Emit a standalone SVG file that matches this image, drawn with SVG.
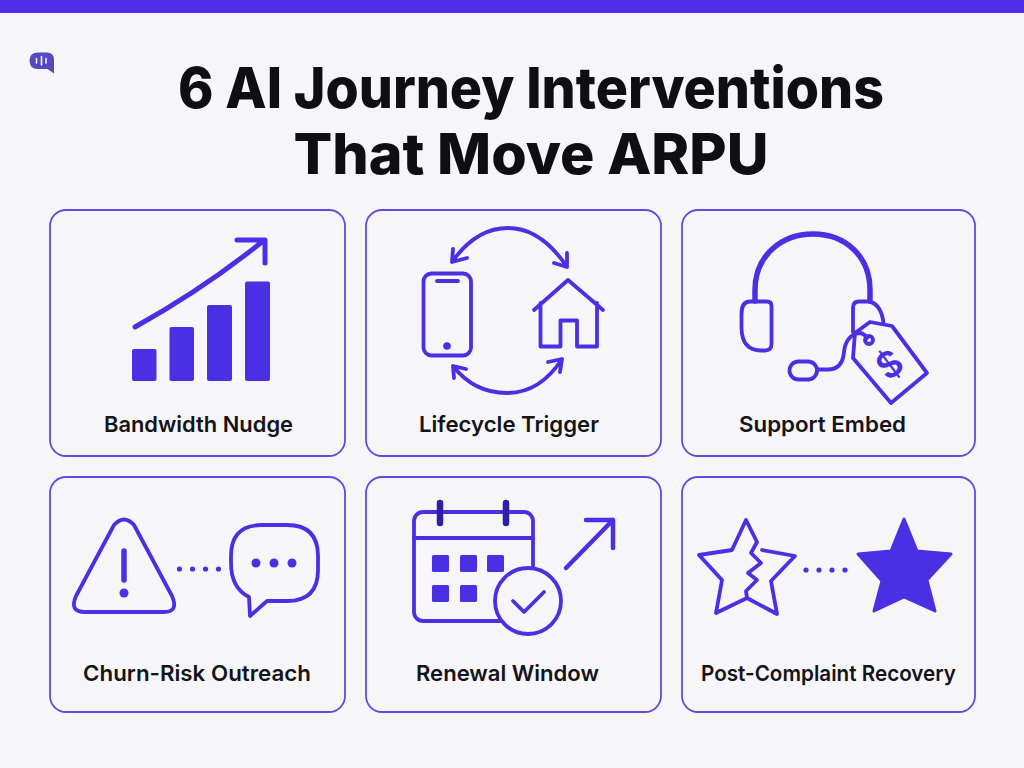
<svg xmlns="http://www.w3.org/2000/svg" width="1024" height="768" viewBox="0 0 1024 768">
<style>
.card{fill:#f6f6f9;stroke:#6448e6;stroke-width:1.8}
.ln{fill:none;stroke:#4a2fe3;stroke-width:3.800;stroke-linecap:round;stroke-linejoin:round}
.f{fill:#4a2fe3}
.lb{font-family:Inter,"Liberation Sans",sans-serif;font-weight:600;font-size:22px;fill:#141418;text-anchor:middle}
.tt{font-family:Inter,"Liberation Sans",sans-serif;font-weight:800;font-size:56.500px;fill:#0f0f12;text-anchor:middle}
</style>
<rect width="1024" height="768" fill="#f6f6f9"/>
<rect width="1024" height="13" fill="#4f2fe8"/>
<g id="logo">
<path d="M38 52.500H47Q54 52.500 54 60V73.500L47.500 69H38Q29.500 69 29.500 60.700Q29.500 52.500 38 52.500Z" fill="#5548c0"/>
<path d="M36.500 58.500V63M41.500 56.500V65M46 58.500V63" stroke="#f6f6f9" stroke-width="1.600" stroke-linecap="round" fill="none"/>
</g>
<g id="title">
<text class="tt" x="531" y="107.500" textLength="706" lengthAdjust="spacingAndGlyphs">6 AI Journey Interventions</text>
<text class="tt" x="531" y="173.500" textLength="475" lengthAdjust="spacingAndGlyphs">That Move ARPU</text>
</g>
<g id="node-bandwidth-nudge">
<rect class="card" x="50" y="210" width="295" height="246" rx="16"/>
<rect class="f" x="132" y="349" width="24.500" height="32" rx="2"/>
<rect class="f" x="169.500" y="327" width="24.500" height="54" rx="2"/>
<rect class="f" x="207" y="305" width="25" height="76" rx="2"/>
<rect class="f" x="245" y="281.500" width="25" height="99.500" rx="2"/>
<path class="ln" style="stroke-width:5" d="M135 327Q205 288 263 241M237 240H265V263"/>
<text class="lb" x="198.500" y="432" textLength="189" lengthAdjust="spacingAndGlyphs">Bandwidth Nudge</text>
</g>
<g id="node-lifecycle-trigger">
<rect class="card" x="366" y="210" width="295" height="246" rx="16"/>
<rect class="ln" x="423.500" y="273.500" width="47.500" height="82" rx="8"/>
<path class="ln" d="M437 281H458"/>
<circle class="f" cx="447" cy="346" r="3.800"/>
<path class="ln" d="M534 310L568 280L603 310M540.500 303V346.500H560.500V320.500H577V346.500H597V303"/>
<path class="ln" d="M452 262Q476 228 508 228Q541 228 567 267M453 249L452 262L467 258M567 253L567 267L554 263"/>
<path class="ln" d="M453 366Q474 393 507 393Q540 393 562 359M466 369L453 366L454 378M548 362L562 359L560 372"/>
<text class="lb" x="509" y="432" textLength="180" lengthAdjust="spacingAndGlyphs">Lifecycle Trigger</text>
</g>
<g id="node-support-embed">
<rect class="card" x="682" y="210" width="293" height="246" rx="16"/>
<path class="ln" style="stroke-width:5.500" d="M755 301V290C755 256 781 234 813 234C845 234 870 256 870 290V301"/>
<path class="ln" d="M750 301.500H767Q771.500 301.500 771.500 306V344Q771.500 350.500 765 350.500H761Q742 350.500 741.500 328V314Q741.500 301.500 750 301.500Z"/>
<path class="ln" d="M853 332V308Q853 301.500 859 301.500H868Q881 303 883.500 323"/>
<rect class="ln" x="789.500" y="361.500" width="27.500" height="18" rx="9"/>
<path class="ln" d="M817 369.500H828C838 369.500 843 363 844 352C845 341 851 334 859 333Q864 333 867 338"/>
<path class="ln" d="M870 322L892 326L927 373L891 403L853 358L855 333Z"/>
<circle class="ln" cx="869" cy="340" r="4"/>
<text x="890" y="377" font-family="Inter,'Liberation Sans',sans-serif" font-size="36" font-weight="600" fill="#4a2fe3" text-anchor="middle" transform="rotate(-37 890 365)">$</text>
<text class="lb" x="822.500" y="432" textLength="167" lengthAdjust="spacingAndGlyphs">Support Embed</text>
</g>
<g id="node-churn-risk-outreach">
<rect class="card" x="50" y="477" width="295" height="235" rx="16"/>
<path class="ln" d="M114 525Q124 514 134 525L172 596Q179 612 164 612H85Q69 612 76 596Z"/>
<path class="ln" style="stroke-width:5.500" d="M124 551V580"/>
<circle class="f" cx="124" cy="593" r="4.500"/>
<circle class="f" cx="179.500" cy="569" r="2.600"/><circle class="f" cx="192.500" cy="569" r="2.600"/><circle class="f" cx="205.500" cy="569" r="2.600"/><circle class="f" cx="218.500" cy="569" r="2.600"/>
<path class="ln" d="M262 525H287Q318 525 318 556V570Q318 601 287 601H267L250 616L249 597Q231 588 231 563V556Q231 525 262 525Z"/>
<circle class="f" cx="256" cy="563" r="4.500"/><circle class="f" cx="274" cy="563" r="4.500"/><circle class="f" cx="292" cy="563" r="4.500"/>
<text class="lb" x="197" y="681" textLength="228" lengthAdjust="spacingAndGlyphs">Churn-Risk Outreach</text>
</g>
<g id="node-renewal-window">
<rect class="card" x="366" y="477" width="295" height="235" rx="16"/>
<rect class="ln" x="414" y="512" width="119" height="109" rx="9"/>
<path class="ln" d="M414 538H533"/>
<path class="ln" style="stroke:#2f1fa8;stroke-width:6.500" d="M440 503V523M506 503V523"/>
<rect class="f" x="432" y="555" width="17" height="17" rx="1.500"/><rect class="f" x="460" y="555" width="17" height="17" rx="1.500"/><rect class="f" x="487" y="555" width="17" height="17" rx="1.500"/>
<rect class="f" x="432" y="585" width="17" height="17" rx="1.500"/><rect class="f" x="460" y="585" width="17" height="17" rx="1.500"/>
<circle class="ln" style="fill:#f6f6f9" cx="528" cy="601" r="33"/>
<path class="ln" d="M513 601L524 612L544 592"/>
<path class="ln" style="stroke-width:4.500" d="M566 568L613 520M586 520H613V548"/>
<text class="lb" x="507.500" y="681" textLength="183" lengthAdjust="spacingAndGlyphs">Renewal Window</text>
</g>
<g id="node-post-complaint-recovery">
<rect class="card" x="682" y="477" width="293" height="235" rx="16"/>
<path class="ln" d="M746 520L732 550L699 555L722 580L716 613L747 598L746 591L757 580L748 573L761 563L751 553L757 542Z"/>
<path class="ln" d="M762 550L795 556L771 581L777 614L747 598"/>
<circle class="f" cx="806" cy="570" r="2.600"/><circle class="f" cx="819" cy="570" r="2.600"/><circle class="f" cx="832" cy="570" r="2.600"/><circle class="f" cx="845" cy="570" r="2.600"/>
<path class="f" stroke="#4a2fe3" stroke-width="3" stroke-linejoin="round" d="M904 519L917 551L951 554L927 580L935 611L904 597L874 611L882 581L858 554L891 551Z"/>
<text class="lb" x="828.500" y="681" textLength="255" lengthAdjust="spacingAndGlyphs">Post-Complaint Recovery</text>
</g>
</svg>
